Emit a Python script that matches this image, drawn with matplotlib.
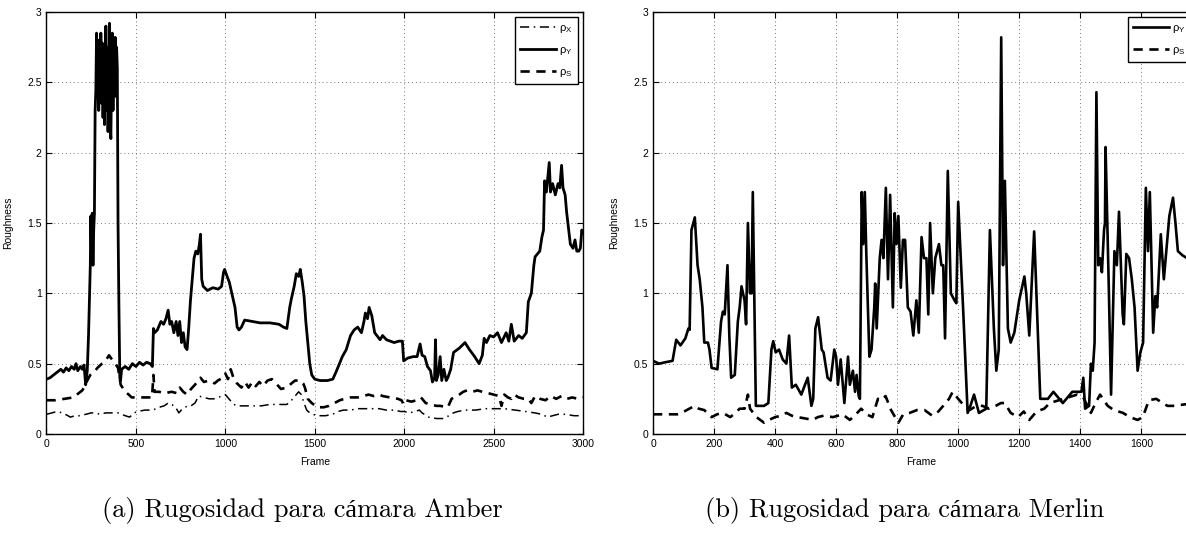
import matplotlib
matplotlib.use("Agg")
import matplotlib.pyplot as plt

plt.rcParams["font.family"] = ["Liberation Sans", "DejaVu Sans"]
plt.rcParams["mathtext.fontset"] = "custom"
plt.rcParams["mathtext.rm"] = "Liberation Sans"
plt.rcParams["mathtext.it"] = "Liberation Sans"

# Amber camera (left panel)
amber_frames_y = [
    0, 20, 40, 60, 80, 95, 110, 125, 140, 155, 165, 175, 190, 200, 210, 219, 228, 235, 240, 245,
    248, 252, 256, 260, 264, 268, 272, 276, 280, 284, 288, 292, 296, 300, 304, 308, 312, 316, 320, 324,
    328, 332, 336, 340, 344, 348, 352, 356, 360, 364, 368, 372, 376, 380, 384, 388, 392, 396, 400, 405,
    410, 414, 420, 440, 460, 480, 500, 520, 540, 560, 580, 592, 598, 605, 620, 640, 655, 668, 680, 690,
    700, 712, 725, 735, 745, 755, 765, 775, 786, 795, 805, 815, 825, 835, 846, 855, 861, 868, 876, 900,
    930, 960, 979, 990, 996, 1010, 1022, 1040, 1054, 1066, 1076, 1090, 1108, 1150, 1194, 1250, 1300, 1325, 1344, 1360,
    1369, 1385, 1397, 1410, 1419, 1430, 1440, 1450, 1461, 1472, 1483, 1500, 1530, 1570, 1601, 1622, 1654, 1676, 1700, 1720,
    1740, 1761, 1775, 1783, 1795, 1804, 1819, 1835, 1847, 1865, 1879, 1901, 1944, 1970, 1990, 1997, 2020, 2050, 2072, 2089,
    2100, 2115, 2130, 2147, 2158, 2170, 2175, 2180, 2190, 2201, 2210, 2222, 2235, 2244, 2260, 2276, 2308, 2340, 2365, 2394,
    2419, 2437, 2447, 2460, 2479, 2500, 2522, 2544, 2570, 2585, 2599, 2615, 2640, 2660, 2683, 2694, 2711, 2725, 2732, 2758,
    2770, 2779, 2785, 2795, 2805, 2811, 2818, 2830, 2845, 2860, 2870, 2880, 2888, 2900, 2908, 2920, 2929, 2944, 2955, 2965,
    2976, 2985, 2993, 3000,
]
amber_rho_y = [
    0.39, 0.40, 0.42, 0.44, 0.46, 0.44, 0.47, 0.45, 0.48, 0.46, 0.50, 0.45, 0.48, 0.46, 0.49, 0.35, 0.45, 0.70, 0.95, 1.20,
    1.55, 1.25, 1.57, 1.20, 1.45, 1.57, 2.30, 2.45, 2.85, 2.40, 2.80, 2.30, 2.70, 2.45, 2.85, 2.35, 2.78, 2.25, 2.70, 2.20,
    2.60, 2.90, 2.30, 2.75, 2.15, 2.50, 2.92, 2.20, 2.10, 2.60, 2.85, 2.30, 2.75, 2.50, 2.82, 2.40, 2.75, 2.60, 1.50, 0.90,
    0.40, 0.38, 0.46, 0.48, 0.46, 0.50, 0.48, 0.51, 0.49, 0.51, 0.50, 0.48, 0.75, 0.72, 0.74, 0.80, 0.78, 0.82, 0.88, 0.78,
    0.80, 0.72, 0.80, 0.70, 0.80, 0.65, 0.72, 0.62, 0.60, 0.75, 0.95, 1.10, 1.25, 1.30, 1.28, 1.35, 1.42, 1.10, 1.05, 1.02,
    1.04, 1.03, 1.05, 1.15, 1.17, 1.12, 1.08, 0.98, 0.90, 0.76, 0.74, 0.76, 0.81, 0.80, 0.79, 0.79, 0.78, 0.76, 0.75, 0.90,
    0.96, 1.05, 1.14, 1.12, 1.17, 1.08, 0.98, 0.80, 0.65, 0.50, 0.42, 0.39, 0.38, 0.38, 0.39, 0.45, 0.55, 0.60, 0.70, 0.74,
    0.76, 0.72, 0.80, 0.86, 0.82, 0.90, 0.84, 0.72, 0.70, 0.67, 0.70, 0.67, 0.65, 0.66, 0.66, 0.52, 0.54, 0.55, 0.55, 0.64,
    0.56, 0.55, 0.48, 0.45, 0.37, 0.40, 0.67, 0.38, 0.42, 0.55, 0.38, 0.46, 0.38, 0.40, 0.46, 0.58, 0.61, 0.65, 0.60, 0.55,
    0.50, 0.56, 0.68, 0.65, 0.70, 0.69, 0.72, 0.65, 0.72, 0.66, 0.78, 0.66, 0.70, 0.68, 0.72, 0.94, 1.00, 1.20, 1.26, 1.30,
    1.40, 1.45, 1.80, 1.72, 1.85, 1.93, 1.72, 1.78, 1.70, 1.78, 1.75, 1.91, 1.75, 1.70, 1.58, 1.45, 1.35, 1.32, 1.38, 1.30,
    1.30, 1.32, 1.45, 1.43,
]

amber_frames_s = [
    0, 50, 100, 150, 180, 200, 215, 228, 245, 265, 285, 310, 330, 350, 360, 380, 400, 415, 425, 440,
    460, 476, 520, 560, 590, 598, 604, 630, 660, 700, 730, 745, 765, 786, 808, 830, 861, 880, 910, 940,
    958, 985, 1000, 1015, 1030, 1045, 1065, 1090, 1110, 1130, 1151, 1170, 1190, 1210, 1236, 1260, 1290, 1311, 1344, 1370,
    1390, 1419, 1435, 1445, 1461, 1483, 1515, 1550, 1579, 1610, 1640, 1665, 1700, 1740, 1772, 1800, 1830, 1860, 1879, 1920,
    1965, 1985, 1997, 2010, 2040, 2070, 2094, 2120, 2150, 2180, 2201, 2244, 2265, 2290, 2308, 2330, 2351, 2380, 2410, 2437,
    2470, 2500, 2530, 2544, 2560, 2580, 2600, 2615, 2640, 2670, 2694, 2711, 2732, 2760, 2790, 2820, 2850, 2880, 2910, 2940,
    2970, 3000,
]
amber_rho_s = [
    0.24, 0.24, 0.25, 0.26, 0.29, 0.31, 0.34, 0.38, 0.42, 0.44, 0.47, 0.50, 0.52, 0.56, 0.54, 0.51, 0.47, 0.35, 0.33, 0.30,
    0.28, 0.26, 0.26, 0.26, 0.26, 0.42, 0.30, 0.30, 0.29, 0.30, 0.29, 0.33, 0.30, 0.28, 0.32, 0.35, 0.40, 0.37, 0.38, 0.36,
    0.38, 0.40, 0.43, 0.39, 0.46, 0.40, 0.36, 0.33, 0.37, 0.33, 0.37, 0.34, 0.37, 0.34, 0.38, 0.39, 0.35, 0.32, 0.33, 0.36,
    0.38, 0.38, 0.36, 0.33, 0.25, 0.22, 0.19, 0.19, 0.20, 0.22, 0.24, 0.25, 0.26, 0.26, 0.27, 0.28, 0.27, 0.28, 0.27, 0.26,
    0.25, 0.24, 0.21, 0.24, 0.23, 0.24, 0.26, 0.22, 0.21, 0.20, 0.20, 0.19, 0.25, 0.27, 0.28, 0.30, 0.31, 0.30, 0.31, 0.30,
    0.29, 0.28, 0.27, 0.20, 0.28, 0.26, 0.25, 0.28, 0.26, 0.25, 0.25, 0.22, 0.27, 0.25, 0.24, 0.27, 0.25, 0.27, 0.25, 0.26,
    0.25, 0.26,
]

amber_frames_x = [
    0, 30, 58, 90, 120, 133, 160, 186, 220, 250, 272, 300, 330, 360, 400, 420, 440, 465, 490, 508,
    550, 594, 630, 658, 680, 700, 722, 740, 760, 790, 808, 830, 851, 880, 910, 936, 960, 980, 1000, 1020,
    1040, 1060, 1100, 1150, 1200, 1250, 1300, 1344, 1370, 1390, 1410, 1425, 1440, 1455, 1472, 1490, 1515, 1560, 1600, 1630,
    1660, 1700, 1740, 1780, 1820, 1860, 1900, 1944, 1980, 2000, 2030, 2060, 2085, 2100, 2137, 2180, 2220, 2250, 2275, 2300,
    2340, 2400, 2450, 2500, 2560, 2620, 2680, 2730, 2770, 2801, 2830, 2860, 2900, 2950, 3000,
]
amber_rho_x = [
    0.14, 0.15, 0.16, 0.15, 0.13, 0.12, 0.13, 0.13, 0.14, 0.15, 0.15, 0.14, 0.15, 0.15, 0.15, 0.14, 0.13, 0.12, 0.15, 0.16,
    0.17, 0.17, 0.19, 0.20, 0.22, 0.21, 0.19, 0.15, 0.18, 0.20, 0.20, 0.22, 0.27, 0.26, 0.25, 0.25, 0.26, 0.27, 0.28, 0.25,
    0.22, 0.20, 0.20, 0.20, 0.20, 0.21, 0.21, 0.21, 0.24, 0.27, 0.30, 0.28, 0.22, 0.17, 0.15, 0.14, 0.13, 0.13, 0.14, 0.16,
    0.17, 0.17, 0.18, 0.18, 0.18, 0.18, 0.17, 0.17, 0.16, 0.16, 0.15, 0.16, 0.17, 0.15, 0.12, 0.11, 0.11, 0.13, 0.15, 0.16,
    0.17, 0.17, 0.18, 0.18, 0.18, 0.17, 0.16, 0.15, 0.14, 0.12, 0.13, 0.14, 0.14, 0.13, 0.13,
]

# Merlin camera (right panel)
merlin_frames_y = [
    0, 20, 40, 64, 76, 90, 106, 116, 120, 126, 137, 146, 153, 162, 168, 180, 185, 192, 211, 223,
    229, 235, 244, 250, 256, 268, 278, 284, 290, 300, 305, 311, 318, 320, 323, 327, 337, 364, 378, 388,
    394, 402, 413, 425, 437, 446, 455, 468, 486, 498, 507, 519, 525, 532, 541, 553, 559, 572, 582, 594,
    600, 606, 615, 627, 639, 645, 655, 662, 667, 674, 678, 684, 689, 694, 699, 709, 716, 725, 728, 733,
    743, 749, 755, 763, 770, 777, 786, 792, 798, 804, 812, 819, 826, 835, 844, 853, 863, 871, 880, 888,
    896, 902, 908, 917, 925, 937, 945, 951, 957, 966, 976, 988, 994, 1000, 1016, 1031, 1040, 1052, 1068, 1092,
    1104, 1117, 1125, 1133, 1141, 1147, 1153, 1163, 1172, 1184, 1200, 1217, 1223, 1233, 1249, 1269, 1294, 1312, 1343, 1374,
    1404, 1410, 1416, 1429, 1435, 1441, 1447, 1453, 1459, 1465, 1471, 1478, 1481, 1483, 1494, 1501, 1512, 1520, 1527, 1539,
    1543, 1551, 1560, 1569, 1578, 1588, 1597, 1606, 1615, 1622, 1628, 1639, 1646, 1652, 1664, 1674, 1692, 1704, 1712, 1720,
    1735, 1750, 1780,
]
merlin_rho_y = [
    0.52, 0.50, 0.51, 0.52, 0.67, 0.63, 0.68, 0.75, 0.74, 1.45, 1.54, 1.20, 1.10, 0.90, 0.65, 0.65, 0.60, 0.47, 0.46, 0.80,
    0.87, 0.85, 1.20, 0.70, 0.40, 0.42, 0.80, 0.90, 1.05, 0.95, 0.78, 1.50, 1.00, 1.20, 1.00, 1.72, 0.20, 0.20, 0.22, 0.60,
    0.66, 0.58, 0.60, 0.53, 0.50, 0.70, 0.33, 0.35, 0.28, 0.35, 0.40, 0.20, 0.25, 0.75, 0.83, 0.60, 0.58, 0.40, 0.38, 0.60,
    0.55, 0.35, 0.53, 0.22, 0.55, 0.35, 0.45, 0.30, 0.42, 0.27, 0.25, 1.72, 1.35, 1.72, 1.28, 0.55, 0.60, 0.90, 1.07, 0.75,
    1.25, 1.38, 1.25, 1.75, 1.10, 1.70, 0.90, 1.57, 1.35, 1.55, 1.04, 1.38, 1.38, 0.90, 0.87, 0.70, 0.95, 0.72, 1.40, 1.25,
    1.25, 0.85, 1.50, 1.00, 1.25, 1.35, 1.20, 1.20, 0.68, 1.87, 1.00, 0.95, 0.93, 1.65, 0.90, 0.15, 0.20, 0.28, 0.15, 0.18,
    1.45, 0.75, 0.45, 0.60, 2.82, 1.20, 1.80, 0.75, 0.65, 0.72, 0.95, 1.12, 1.00, 0.70, 1.44, 0.25, 0.25, 0.30, 0.22, 0.30,
    0.30, 0.40, 0.18, 0.20, 0.50, 0.45, 0.65, 2.43, 1.20, 1.25, 1.15, 1.45, 1.50, 2.04, 1.00, 0.28, 1.30, 1.20, 1.58, 0.85,
    0.78, 1.28, 1.25, 1.10, 0.90, 0.45, 0.58, 0.65, 1.75, 1.30, 1.72, 0.72, 0.98, 0.90, 1.42, 1.10, 1.55, 1.68, 1.50, 1.30,
    1.27, 1.25, 1.28,
]

merlin_frames_s = [
    0, 30, 60, 80, 94, 119, 137, 150, 168, 192, 210, 229, 253, 270, 284, 300, 311, 318, 339, 364,
    380, 400, 420, 437, 455, 474, 500, 523, 540, 559, 590, 621, 645, 665, 682, 700, 719, 737, 750, 762,
    780, 804, 820, 841, 865, 890, 915, 935, 951, 970, 982, 1000, 1020, 1037, 1060, 1080, 1100, 1123, 1140, 1153,
    1172, 1196, 1215, 1233, 1257, 1282, 1300, 1330, 1360, 1390, 1410, 1435, 1450, 1465, 1490, 1510, 1540, 1563, 1588, 1605,
    1625, 1649, 1670, 1686, 1710, 1740, 1780,
]
merlin_rho_s = [
    0.14, 0.14, 0.14, 0.14, 0.15, 0.18, 0.20, 0.18, 0.17, 0.12, 0.14, 0.15, 0.12, 0.15, 0.18, 0.18, 0.28, 0.18, 0.12, 0.08,
    0.10, 0.12, 0.13, 0.15, 0.13, 0.12, 0.11, 0.10, 0.12, 0.13, 0.12, 0.14, 0.10, 0.14, 0.18, 0.14, 0.12, 0.25, 0.24, 0.27,
    0.17, 0.08, 0.14, 0.15, 0.17, 0.17, 0.13, 0.16, 0.20, 0.25, 0.30, 0.25, 0.20, 0.17, 0.20, 0.20, 0.18, 0.20, 0.22, 0.22,
    0.15, 0.12, 0.16, 0.10, 0.16, 0.18, 0.22, 0.24, 0.26, 0.28, 0.26, 0.15, 0.22, 0.28, 0.20, 0.17, 0.15, 0.12, 0.10, 0.12,
    0.24, 0.25, 0.22, 0.20, 0.20, 0.21, 0.22,
]

captions = ["(a) Rugosidad para cámara Amber", "(b) Rugosidad para cámara Merlin"]

fig = plt.figure(figsize=(11.86, 5.36), dpi=100)
ax_a = fig.add_axes([0.0392, 0.1903, 0.4524, 0.7873])
# right panel runs slightly past the image edge, as in the cropped reference
ax_b = fig.add_axes([0.5506, 0.1903, 0.4580, 0.7873])

ax_a.plot(amber_frames_x, amber_rho_x, color="black", lw=1.1, linestyle=(0, (6, 3, 1, 3)),
          label=r"$\rho_X$")
ax_a.plot(amber_frames_y, amber_rho_y, color="black", lw=2.0, label=r"$\rho_Y$")
ax_a.plot(amber_frames_s, amber_rho_s, color="black", lw=1.9, linestyle=(0, (3.5, 2.5)),
          label=r"$\rho_S$")

ax_b.plot(merlin_frames_y, merlin_rho_y, color="black", lw=1.9, label=r"$\rho_Y$")
ax_b.plot(merlin_frames_s, merlin_rho_s, color="black", lw=1.9, linestyle=(0, (3.5, 2.5)),
          label=r"$\rho_S$")

for ax, xmax, step in [(ax_a, 3000, 500), (ax_b, 1780, 200)]:
    ax.set_xlim(0, xmax)
    ax.set_ylim(0, 3)
    ax.set_xticks(range(0, xmax + 1, step))
    ax.set_yticks([0, 0.5, 1, 1.5, 2, 2.5, 3])
    ax.set_yticklabels(["0", "0.5", "1", "1.5", "2", "2.5", "3"])
    ax.tick_params(direction="in", top=True, right=True, length=4, labelsize=7.5, width=0.8)
    ax.grid(True, linestyle=(0, (1, 3)), color="#777777", lw=0.7)
    ax.set_xlabel("Frame", fontsize=7.5)
    ax.set_ylabel("Roughness", fontsize=7.5)
    ax.xaxis.set_label_coords(0.5, -0.055)
    ax.yaxis.set_label_coords(-0.062, 0.5)
    for sp in ax.spines.values():
        sp.set_linewidth(1.0)
    leg = ax.legend(loc="upper right", fontsize=8, handlelength=3.2, labelspacing=0.9,
                    handletextpad=0.3, borderpad=0.5, borderaxespad=0.45, fancybox=False,
                    framealpha=1)
    leg.get_frame().set_edgecolor("black")
    leg.get_frame().set_linewidth(1.0)

ax_b.xaxis.set_label_coords(0.5 * 0.4524 / 0.4580, -0.055)

fig.text(302 / 1186, 1 - 511 / 536, captions[0], ha="center", va="center",
         fontsize=19, family=["cmr10", "Liberation Serif"])
fig.text(905 / 1186, 1 - 511 / 536, captions[1], ha="center", va="center",
         fontsize=19, family=["cmr10", "Liberation Serif"])

fig.savefig("out.png", dpi=100)
